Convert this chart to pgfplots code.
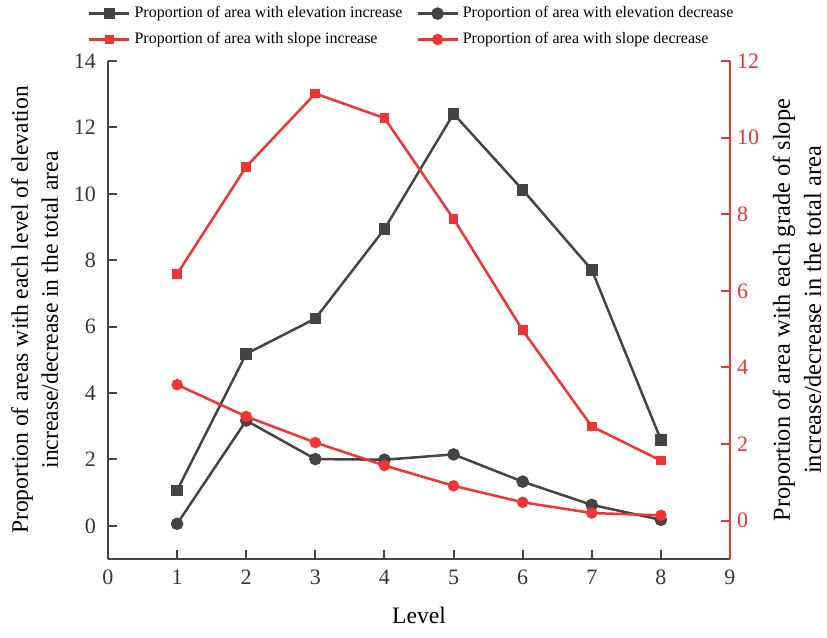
\documentclass[border=0pt]{standalone}
\usepackage{fontspec}
\setmainfont{Liberation Serif}
\usepackage{pgfplots}
\pgfplotsset{compat=1.18}
\definecolor{dgray}{RGB}{68,68,68}
\definecolor{lred}{RGB}{240,52,52}

\pgfplotsset{
  twoax/.style={
    scale only axis, width=311pt, height=249pt,
    xmin=0, xmax=9,
    /pgf/number format/assume math mode=true,
    tick label style={font=\fontsize{11}{13}\selectfont},
    label style={font=\fontsize{11.8}{15}\selectfont},
    tick style={line width=1pt},
    major tick length=4.5pt,
  },
}

\begin{document}
\begin{tikzpicture}
\path[use as bounding box] (-54pt,-39.5pt) rectangle (359.5pt,279.5pt);

% left axis: elevation
\begin{axis}[twoax,
  axis x line*=bottom, axis y line*=left,
  axis line style={dgray, line width=1.2pt},
  tick style={dgray},
  ymin=-1, ymax=14, ytick={0,2,...,14},
  xtick={0,1,...,9},
  ticklabel style={dgray!80!black},
  xticklabel style={yshift=-2pt},
  yticklabel style={xshift=-2.5pt},
  xlabel={Level},
  xlabel shift=4pt,
  ylabel={Proportion of areas with each level of elevation\\increase/decrease in the total area},
  ylabel style={align=center},
  ylabel shift=1pt,
  legend columns=2,
  legend cell align=left,
  legend style={at={(0.49,1)}, anchor=south, yshift=3pt, draw=none, fill=none,
    font=\fontsize{8}{10}\selectfont, row sep=1.8pt,
    /tikz/every even column/.append style={column sep=5pt}},
  legend image code/.code={\draw[mark repeat=2,mark phase=2] plot coordinates {(0cm,0cm) (0.35cm,0cm) (0.7cm,0cm)};},
]
\addplot[dgray, line width=1.25pt, mark=square*, mark size=2.25pt] coordinates {
  (1,1.07) (2,5.18) (3,6.24) (4,8.94) (5,12.41) (6,10.12) (7,7.71) (8,2.59)
};
\addlegendentry{Proportion of area with elevation increase}
\addplot[dgray, line width=1.25pt, mark=*, mark size=2.5pt] coordinates {
  (1,0.06) (2,3.17) (3,2.01) (4,1.99) (5,2.15) (6,1.33) (7,0.63) (8,0.18)
};
\addlegendentry{Proportion of area with elevation decrease}
\addlegendimage{lred, line width=1.25pt, mark=square*, mark size=1.8pt}
\addlegendentry{Proportion of area with slope increase}
\addlegendimage{lred, line width=1.25pt, mark=*, mark size=2.2pt}
\addlegendentry{Proportion of area with slope decrease}
\end{axis}

% right axis: slope
\begin{axis}[twoax,
  axis x line=none, axis y line*=right,
  axis line style={lred, line width=1.2pt},
  tick style={lred},
  ymin=-1, ymax=12, ytick={0,2,...,12},
  yticklabel style={lred},
  ylabel={Proportion of area with each grade of slope\\increase/decrease in the total area},
  ylabel style={align=center, font=\fontsize{12.2}{15.5}\selectfont},
]
\addplot[lred, line width=1.25pt, mark=square*, mark size=1.8pt] coordinates {
  (1,6.44) (2,9.24) (3,11.15) (4,10.51) (5,7.88) (6,4.97) (7,2.46) (8,1.57)
};
\addplot[lred, line width=1.25pt, mark=*, mark size=2.2pt] coordinates {
  (1,3.55) (2,2.72) (3,2.04) (4,1.44) (5,0.91) (6,0.48) (7,0.20) (8,0.14)
};
\end{axis}
\end{tikzpicture}
\end{document}
